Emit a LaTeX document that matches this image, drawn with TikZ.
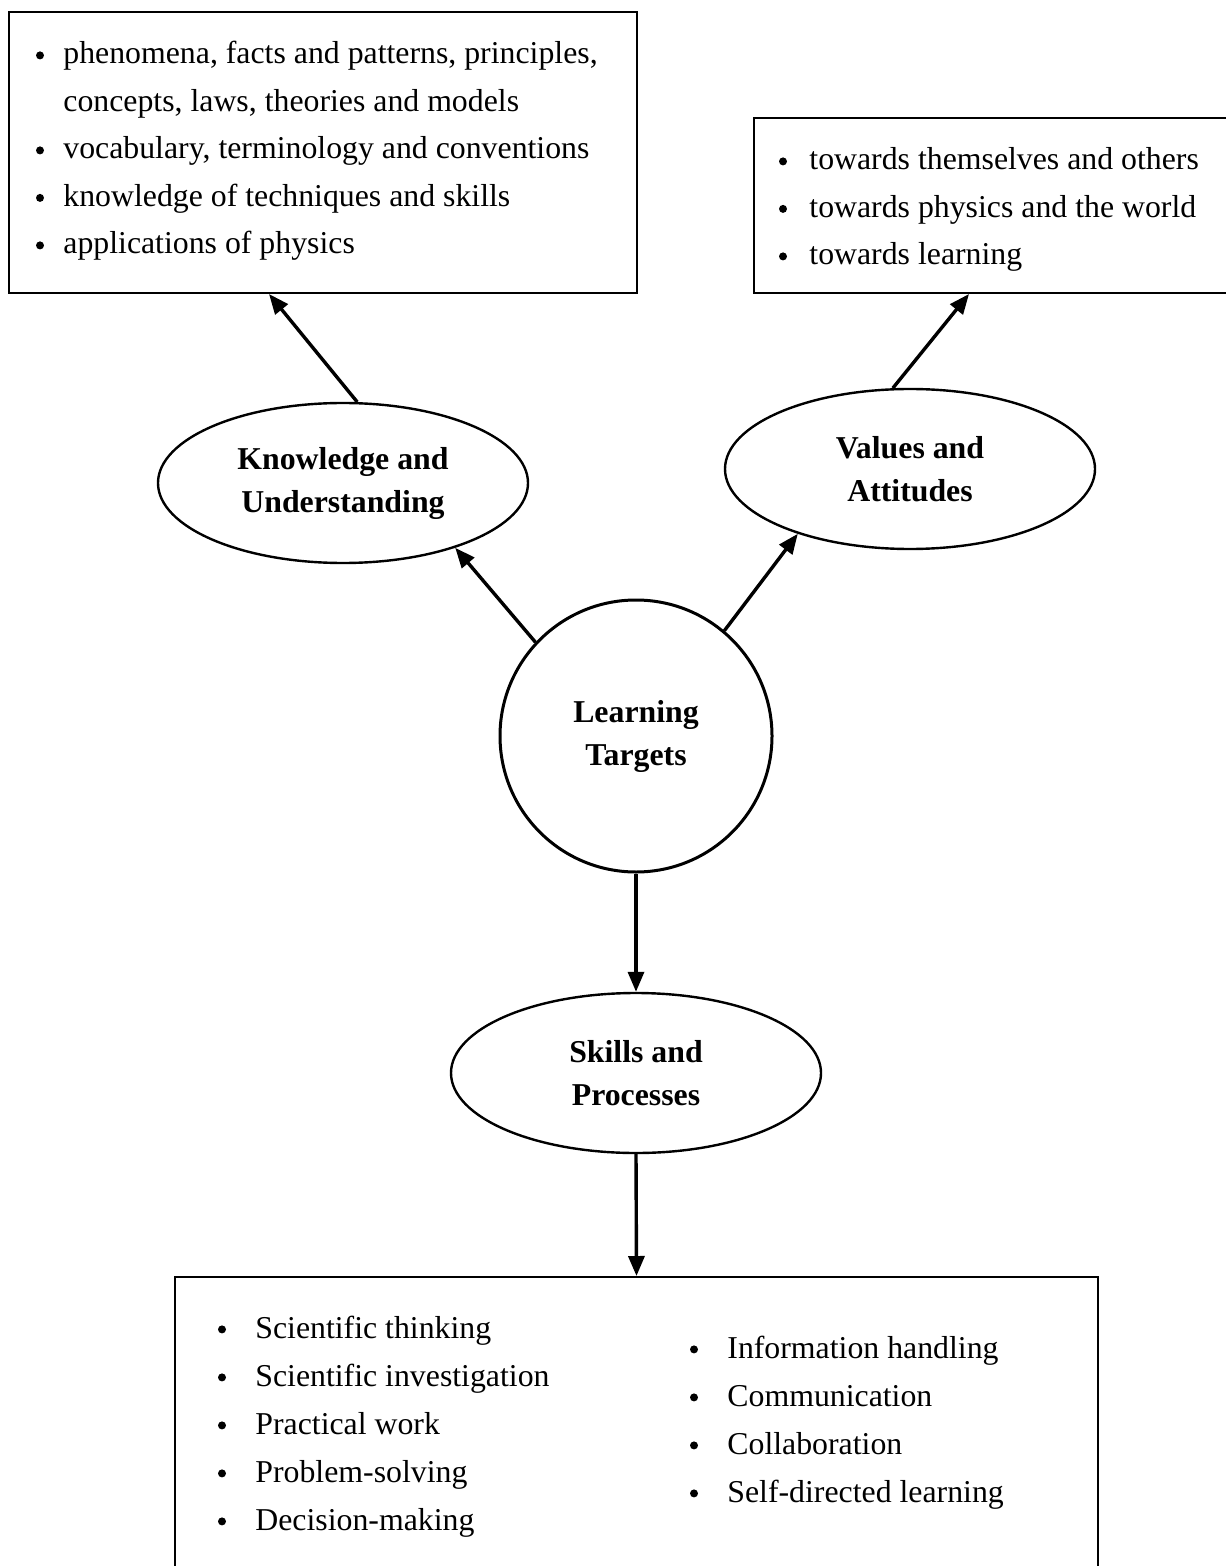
\documentclass[tikz,border=0pt]{standalone}
\usepackage{fontspec}
\setmainfont{Liberation Serif}
\usetikzlibrary{shapes.geometric,arrows.meta,calc}
\newcommand\bodyfont{\fontsize{15.9}{21.5}\selectfont}
\tikzset{
  frame/.style={draw, line width=1pt, inner sep=0pt},
  oval/.style={ellipse, draw, line width=1.2pt, inner sep=0pt, align=center,
    font=\bodyfont\bfseries, minimum width=185pt, minimum height=80pt},
  hub/.style={circle, draw, line width=1.5pt, inner sep=0pt, align=center,
    font=\bodyfont\bfseries, minimum size=136pt},
  arr/.style={line width=1.7pt, -{Triangle[length=10pt,width=8pt]}},
  itm/.style={anchor=base west, inner sep=0pt, font=\bodyfont},
  dot/.style={circle, fill, inner sep=0pt, minimum size=4pt, yshift=4.3pt},
}
\begin{document}
\begin{tikzpicture}[x=0.5pt, y=-0.5pt]
\useasboundingbox (0,0) rectangle (1225,1566);

% boxes
\node[frame, minimum width=314pt, minimum height=140.5pt] (kbox) at (323,152.5) {};
\node[frame, minimum width=243pt, minimum height=87.5pt] (vbox) at (997,205.5) {};
\node[frame, minimum width=461.5pt, minimum height=151.5pt] (sbox) at (636.5,1428.5) {};

% ovals and hub
\node[oval] (ku) at (343,483) {Knowledge and\\Understanding};
\node[oval] (va) at (910,469) {Values and\\Attitudes};
\node[hub] (lt) at (636,736) {Learning\\Targets};
\node[oval] (sp) at (636,1073) {Skills and\\Processes};

% top-left list
\node[dot] (kb1) at (40,64) {};
\node[itm] (kt1) at (63,64) {phenomena, facts and patterns, principles,};
\node[itm] (kt2) at (63,111.5) {concepts, laws, theories and models};
\node[dot] (kb3) at (40,159) {};
\node[itm] (kt3) at (63,159) {vocabulary, terminology and conventions};
\node[dot] (kb4) at (40,206.5) {};
\node[itm] (kt4) at (63,206.5) {knowledge of techniques and skills};
\node[dot] (kb5) at (40,254) {};
\node[itm] (kt5) at (63,254) {applications of physics};

% top-right list
\node[dot] (vb1) at (783,170) {};
\node[itm] (vt1) at (809,170) {towards themselves and others};
\node[dot] (vb2) at (783,217.5) {};
\node[itm] (vt2) at (809,217.5) {towards physics and the world};
\node[dot] (vb3) at (783,265) {};
\node[itm] (vt3) at (809,265) {towards learning};

% bottom list, left column
\node[dot] (sb1) at (222,1338) {};
\node[itm] (st1) at (255,1338) {Scientific thinking};
\node[dot] (sb2) at (222,1386) {};
\node[itm] (st2) at (255,1386) {Scientific investigation};
\node[dot] (sb3) at (222,1434) {};
\node[itm] (st3) at (255,1434) {Practical work};
\node[dot] (sb4) at (222,1482) {};
\node[itm] (st4) at (255,1482) {Problem-solving};
\node[dot] (sb5) at (222,1530) {};
\node[itm] (st5) at (255,1530) {Decision-making};

% bottom list, right column
\node[dot] (rb1) at (694,1358) {};
\node[itm] (rt1) at (727,1358) {Information handling};
\node[dot] (rb2) at (694,1406) {};
\node[itm] (rt2) at (727,1406) {Communication};
\node[dot] (rb3) at (694,1454) {};
\node[itm] (rt3) at (727,1454) {Collaboration};
\node[dot] (rb4) at (694,1502) {};
\node[itm] (rt4) at (727,1502) {Self-directed learning};

% connectors
\draw[arr] (ku.80) -- ($(kbox.south west)+(261,0)$);
\draw[arr] (va.102) -- ($(vbox.south west)+(216,0)$);
\draw[arr] (lt.137) -- (ku.-30);
\draw[arr] (lt.50) -- (va.210);
\draw[arr] (lt.south) -- (sp.north);
\draw[arr] (sp.south) -- (sbox.north);
\end{tikzpicture}
\end{document}
